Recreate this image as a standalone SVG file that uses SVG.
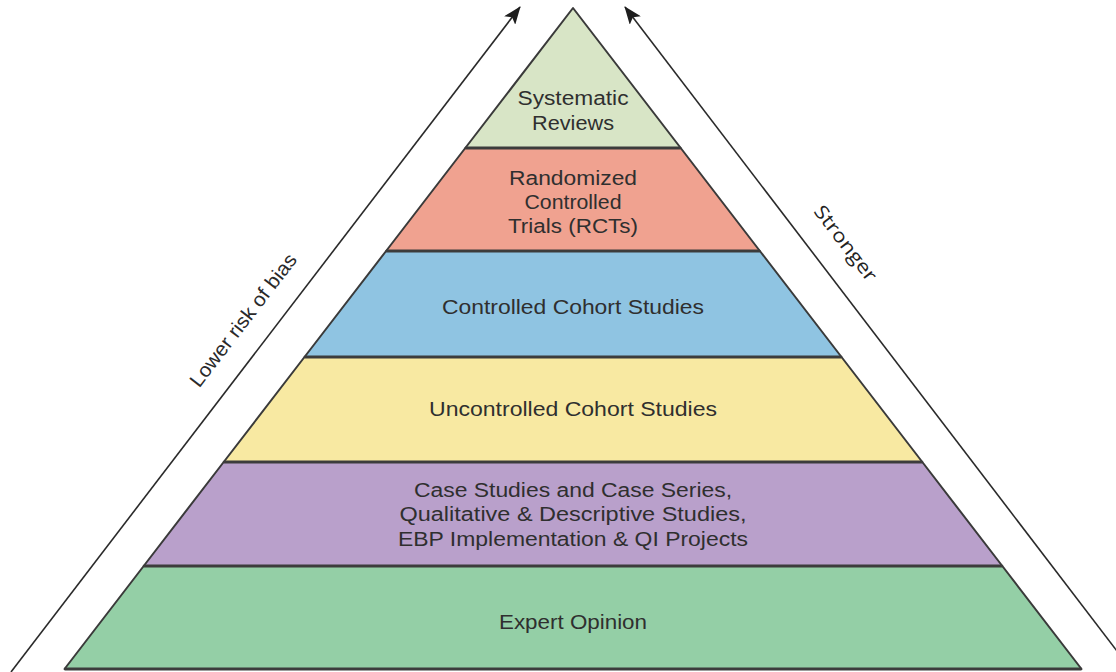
<svg xmlns="http://www.w3.org/2000/svg" width="1116" height="672" viewBox="0 0 1116 672">
  <defs>
    <marker id="arrowhead" markerUnits="userSpaceOnUse" markerWidth="18" markerHeight="14" refX="17" refY="7" orient="auto">
      <path d="M0,0 L18,7 L0,14 L4,7 Z" fill="#1e1e1e"/>
    </marker>
    <style>
      .band { stroke: #3a3a3a; stroke-width: 2; stroke-linejoin: round; }
      .sep { stroke: #3c3c3c; stroke-width: 3; }
      .lbl { font-family: "Liberation Sans", Arial, sans-serif; font-size: 20px; text-anchor: middle; fill: #2f2f2f; }
      .axis { stroke: #2a2a2a; stroke-width: 1.6; fill: none; }
      .side { font-family: "Liberation Sans", Arial, sans-serif; font-size: 20px; text-anchor: middle; fill: #2a2a2a; }
      .side2 { font-family: "Open Sans", "Liberation Sans", sans-serif; font-size: 19px; text-anchor: middle; fill: #222; }
    </style>
  </defs>

  <rect width="1116" height="672" fill="#ffffff"/>

  <!-- side arrows -->
  <g id="connectors">
    <line class="axis" x1="11" y1="672" x2="520" y2="7" marker-end="url(#arrowhead)"/>
    <line class="axis" x1="1133" y1="672" x2="625" y2="7" marker-end="url(#arrowhead)"/>
  </g>

  <g id="label-lower-risk" transform="translate(243,320) rotate(-52.5)">
    <text class="side" x="0" y="7" textLength="162" lengthAdjust="spacingAndGlyphs">Lower risk of bias</text>
  </g>
  <g id="label-stronger" transform="translate(846,243) rotate(52.5)">
    <text class="side2" x="0" y="7" textLength="90" lengthAdjust="spacingAndGlyphs">Stronger</text>
  </g>

  <!-- pyramid tiers, top to bottom -->
  <g id="tier-systematic-reviews">
    <polygon class="band" points="573,8 680.7,148 465.3,148" fill="#d8e5c6"/>
    <text class="lbl" x="573" y="105" textLength="111" lengthAdjust="spacingAndGlyphs">Systematic</text>
    <text class="lbl" x="573" y="130" textLength="82" lengthAdjust="spacingAndGlyphs">Reviews</text>
  </g>

  <g id="tier-rcts">
    <polygon class="band" points="465.3,148 680.7,148 759.9,251 386.1,251" fill="#f0a290"/>
    <text class="lbl" x="573" y="185" textLength="128" lengthAdjust="spacingAndGlyphs">Randomized</text>
    <text class="lbl" x="573" y="209" textLength="97" lengthAdjust="spacingAndGlyphs">Controlled</text>
    <text class="lbl" x="573" y="233" textLength="130" lengthAdjust="spacingAndGlyphs">Trials (RCTs)</text>
  </g>

  <g id="tier-controlled-cohort">
    <polygon class="band" points="386.1,251 759.9,251 841.5,357 304.5,357" fill="#8fc4e2"/>
    <text class="lbl" x="573" y="314" textLength="262" lengthAdjust="spacingAndGlyphs">Controlled Cohort Studies</text>
  </g>

  <g id="tier-uncontrolled-cohort">
    <polygon class="band" points="304.5,357 841.5,357 922.3,462 223.7,462" fill="#f8e9a2"/>
    <text class="lbl" x="573" y="416" textLength="288" lengthAdjust="spacingAndGlyphs">Uncontrolled Cohort Studies</text>
  </g>

  <g id="tier-case-studies">
    <polygon class="band" points="223.7,462 922.3,462 1002.3,566 143.7,566" fill="#b9a0cb"/>
    <text class="lbl" x="573" y="497" textLength="318" lengthAdjust="spacingAndGlyphs">Case Studies and Case Series,</text>
    <text class="lbl" x="573" y="521" textLength="347" lengthAdjust="spacingAndGlyphs">Qualitative &amp; Descriptive Studies,</text>
    <text class="lbl" x="573" y="546" textLength="350" lengthAdjust="spacingAndGlyphs">EBP Implementation &amp; QI Projects</text>
  </g>

  <g id="tier-expert-opinion">
    <polygon class="band" points="143.7,566 1002.3,566 1081.5,669 64.5,669" fill="#94cfa6"/>
    <text class="lbl" x="573" y="629" textLength="148" lengthAdjust="spacingAndGlyphs">Expert Opinion</text>
  </g>

  <!-- heavier tier dividers -->
  <g id="dividers">
    <line class="sep" x1="465.3" y1="148" x2="680.7" y2="148"/>
    <line class="sep" x1="386.1" y1="251" x2="759.9" y2="251"/>
    <line class="sep" x1="304.5" y1="357" x2="841.5" y2="357"/>
    <line class="sep" x1="223.7" y1="462" x2="922.3" y2="462"/>
    <line class="sep" x1="143.7" y1="566" x2="1002.3" y2="566"/>
    <line class="sep" x1="64.5" y1="669" x2="1081.5" y2="669"/>
  </g>
</svg>
